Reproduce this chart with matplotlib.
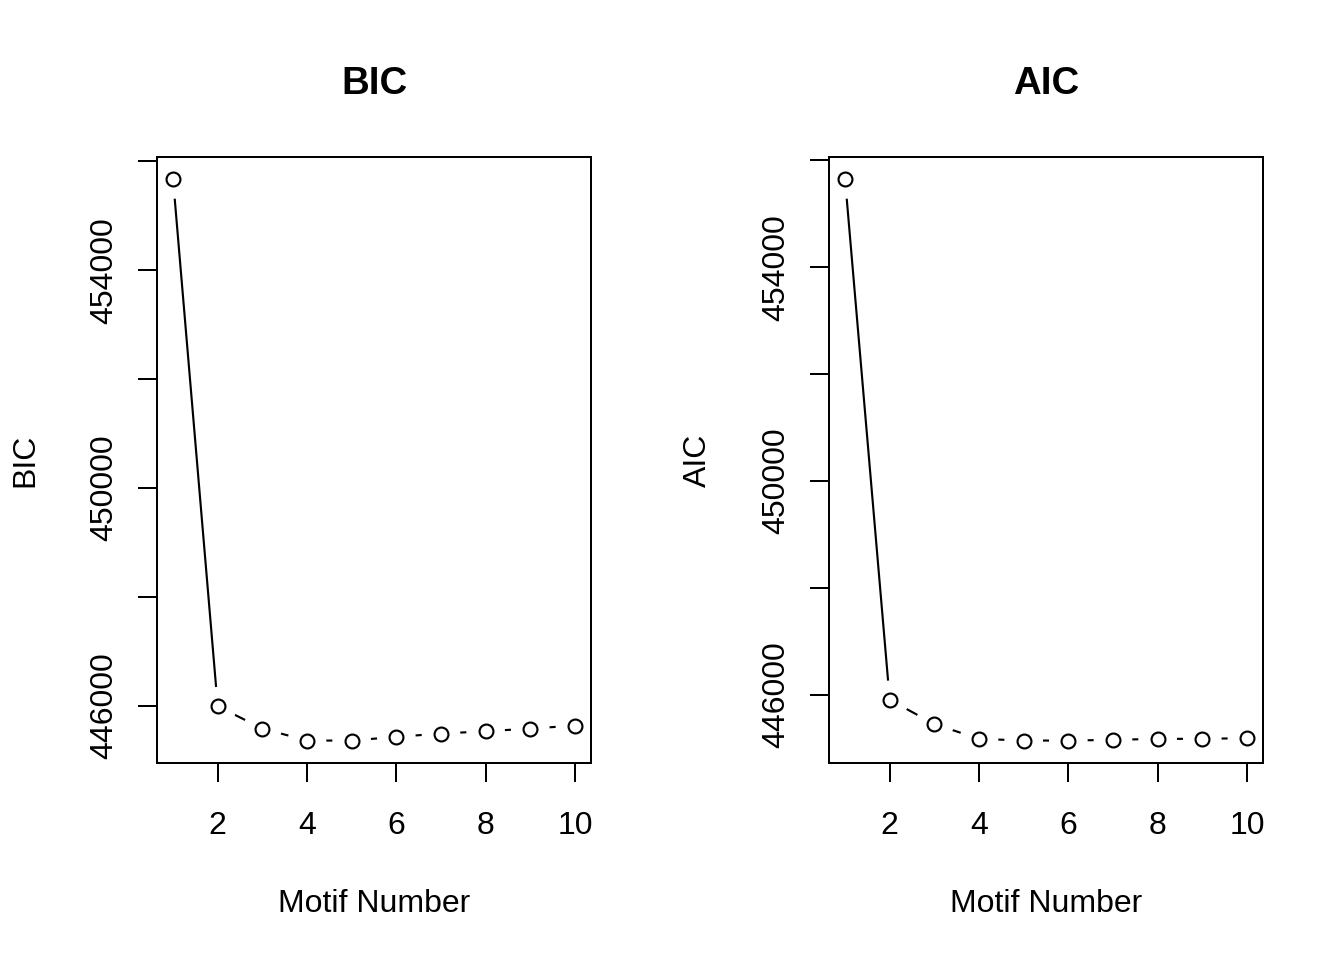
import matplotlib
matplotlib.use("Agg")
import matplotlib.pyplot as plt
import numpy as np

plt.rcParams['font.family'] = ['Liberation Sans', 'DejaVu Sans']

motifs = [1, 2, 3, 4, 5, 6, 7, 8, 9, 10]
bic = [455670, 445988, 445578, 445358, 445358, 445426, 445486, 445529, 445578, 445633]
aic = [455640, 445907, 445454, 445178, 445146, 445146, 445159, 445178, 445178, 445191]
yticks = [446000, 448000, 450000, 452000, 454000, 456000]
ytick_labels = ['446000', '', '450000', '', '454000', '']
xticks = [2, 4, 6, 8, 10]


def r_lim(v):
    lo, hi = min(v), max(v)
    ext = (hi - lo) * 0.04
    return lo - ext, hi + ext


def panel(ax, values, name):
    x = np.array(motifs)
    y = np.array(values)
    # type="b": line with gaps around the points
    ax.plot(x, y, color='black', lw=0.8, zorder=1)
    ax.scatter(x, y, s=14.5 ** 2, color='white', edgecolors='none', zorder=1.5)
    ax.plot(x, y, 'o', ms=5.2, mfc='none', mec='black', mew=0.8, zorder=3)
    ax.set_xlim(r_lim(motifs))
    ax.set_ylim(r_lim(values))
    ax.set_xticks(xticks)
    ax.set_yticks(yticks)
    ax.set_yticklabels(ytick_labels, rotation=90, va='center')
    ax.tick_params(direction='out', length=7, width=0.75, labelsize=12)
    ax.tick_params(axis='x', pad=11)
    ax.tick_params(axis='y', pad=7)
    for sp in ax.spines.values():
        sp.set_linewidth(0.75)
        sp.set_zorder(2.5)
    ax.set_title(name, fontsize=14.4, fontweight='bold', pad=23.5)
    ax.set_xlabel('Motif Number', fontsize=12, labelpad=18)
    ax.set_ylabel(name, fontsize=12, labelpad=18.3)


fig = plt.figure(figsize=(7, 5), dpi=192)
ax1 = fig.add_axes([157 / 1344, 197 / 960, 434 / 1344, 606 / 960])
ax2 = fig.add_axes([829 / 1344, 197 / 960, 434 / 1344, 606 / 960])
panel(ax1, bic, 'BIC')
panel(ax2, aic, 'AIC')

fig.savefig('out.png', dpi=192)
